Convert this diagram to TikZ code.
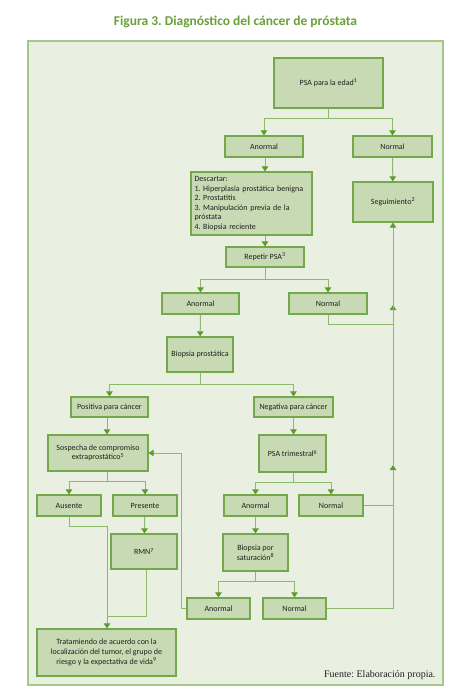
\documentclass[tikz,border=0pt]{standalone}
\usepackage{fontspec}
\setmainfont{Carlito}
\newfontfamily\fuentefont{Liberation Serif}
\usetikzlibrary{shapes, arrows.meta, calc, positioning}
\frenchspacing
\definecolor{bggreen}{HTML}{EAF0E1}
\definecolor{framegreen}{HTML}{A3C887}
\definecolor{boxfill}{HTML}{C8DAB4}
\definecolor{boxborder}{HTML}{74A84B}
\definecolor{linegreen}{HTML}{8DB96E}
\definecolor{tipgreen}{HTML}{5E9B2E}
\definecolor{titlegreen}{HTML}{6AA03A}
\definecolor{textgray}{HTML}{1F1F1F}
\tikzstyle{box} = [rectangle, draw=boxborder, fill=boxfill, line width=1.2pt, text=textgray, font=\fontsize{8}{9.6}\selectfont, align=center, inner sep=2pt]
\tikzstyle{arrow} = [draw=linegreen, line width=1pt, -{Triangle[length=5pt,width=6.5pt,color=tipgreen]}]
\tikzstyle{line} = [draw=linegreen, line width=1pt]
\newcommand{\sups}[1]{\textsuperscript{#1}}

\begin{document}
\begin{tikzpicture}[x=1pt, y=-1pt]
\useasboundingbox [fill=white] (0,0) rectangle (464,695);

% Frame and title
\node (title) at (235.5,22) [font=\fontsize{13.5}{15}\selectfont\bfseries, text=titlegreen] {Figura 3. Diagnóstico del cáncer de próstata};
\node (frame) at (235.5,363) [rectangle, draw=framegreen, fill=bggreen, line width=1.5pt, minimum width=415pt, minimum height=644pt] {};

% Boxes
\node (psa) at (328.5,83) [box, minimum width=109pt, minimum height=50pt] {PSA para la edad\sups{1}};
\node (anormal_1) at (264,146.5) [box, minimum width=78pt, minimum height=21pt] {Anormal};
\node (normal_1) at (392.5,146.5) [box, minimum width=79pt, minimum height=21pt] {Normal};
\node (descartar) at (251.5,203.5) [box, minimum width=121pt, minimum height=63pt, text width=114pt, align=left] {Descartar:\\1. Hiperplasia prostática benigna\\2. Prostatitis\\3. Manipulación previa de la\\próstata\\4. Biopsia reciente};
\node (seguimiento) at (393,202) [box, minimum width=80pt, minimum height=40pt] {Seguimiento\sups{2}};
\node (repetir) at (265,257) [box, minimum width=78pt, minimum height=20pt] {Repetir PSA\sups{3}};
\node (anormal_2) at (200.5,303.5) [box, minimum width=77pt, minimum height=21pt] {Anormal};
\node (normal_2) at (328,303.5) [box, minimum width=78pt, minimum height=21pt] {Normal};
\node (biopsia) at (200,354.5) [box, minimum width=66pt, minimum height=35pt] {Biopsia prostática};
\node (positiva) at (109.5,407) [box, minimum width=77pt, minimum height=20pt] {Positiva para cáncer};
\node (negativa) at (293.5,407) [box, minimum width=79pt, minimum height=20pt] {Negativa para cáncer};
\node (sospecha) at (98,453) [box, minimum width=100pt, minimum height=36pt] {Sospecha de compromiso\\extraprostático\sups{5}};
\node (trimestral) at (292.5,453.5) [box, minimum width=67pt, minimum height=37pt] {PSA trimestral\sups{6}};
\node (ausente) at (69,505.5) [box, minimum width=64pt, minimum height=21pt] {Ausente};
\node (presente) at (145,505.5) [box, minimum width=64pt, minimum height=21pt] {Presente};
\node (anormal_3) at (255.5,505.5) [box, minimum width=63pt, minimum height=21pt] {Anormal};
\node (normal_3) at (331,505.5) [box, minimum width=64pt, minimum height=21pt] {Normal};
\node (rmn) at (144,551.5) [box, minimum width=66pt, minimum height=35pt] {RMN\sups{7}};
\node (saturacion) at (255.5,552.5) [box, minimum width=65pt, minimum height=37pt] {Biopsia por\\saturación\sups{8}};
\node (anormal_4) at (218.5,608.5) [box, minimum width=63pt, minimum height=21pt] {Anormal};
\node (normal_4) at (294.5,608.5) [box, minimum width=63pt, minimum height=21pt] {Normal};
\node (tratamiento) at (106.5,652.5) [box, minimum width=139pt, minimum height=47pt] {Tratamiendo de acuerdo con la\\localización del tumor, el grupo de\\riesgo y la expectativa de vida\sups{9}};
\node (fuente) at (439,675) [anchor=east, font=\fuentefont\fontsize{10}{12}\selectfont, text=textgray] {Fuente: Elaboración propia.};

% Splits
\draw [line] (psa.south) -- ++(0,10) coordinate (split_1);
\draw [arrow] (split_1) -| (anormal_1);
\draw [arrow] (split_1) -| (normal_1);
\draw [line] (repetir.south) -- ++(0,12) coordinate (split_2);
\draw [arrow] (split_2) -| (anormal_2);
\draw [arrow] (split_2) -| (normal_2);
\draw [line] (biopsia.south) -- ++(0,12) coordinate (split_3);
\draw [arrow] (split_3) -| (positiva);
\draw [arrow] (split_3) -| (negativa);
\draw [line] (sospecha.south) ++(9,0) -- ++(0,10) coordinate (split_4);
\draw [arrow] (split_4) -| (ausente);
\draw [arrow] (split_4) -| (presente);
\draw [line] (trimestral.south) ++(1,0) -- ++(0,10) coordinate (split_5);
\draw [arrow] (split_5) -| (anormal_3);
\draw [arrow] (split_5) -| (normal_3);
\draw [line] (saturacion.south) -- ++(0,10) coordinate (split_6);
\draw [arrow] (split_6) -| (anormal_4);
\draw [arrow] (split_6) -| (normal_4);

% Straight arrows
\draw [arrow] ([xshift=1pt]anormal_1.south) -- ([xshift=1pt]anormal_1.south |- descartar.north);
\draw [arrow] (repetir.north |- descartar.south) -- (repetir);
\draw [arrow] (normal_1) -- (seguimiento);
\draw [arrow] (anormal_2) -- (biopsia);
\draw [arrow] (split_4 |- positiva.south) -- (split_4 |- sospecha.north);
\draw [arrow] (negativa) -- (negativa |- trimestral.north);
\draw [arrow] (presente) -- (rmn);
\draw [arrow] (anormal_3) -- (anormal_3 |- saturacion.north);

% Towards treatment
\draw [arrow] (ausente.south) -- ++(0,10) -| ([xshift=0.5pt]tratamiento.north);
\draw [line] (rmn.south) ++(2,0) |- ($(tratamiento.north)+(0.5,-12)$);

% Back to suspicion
\draw [arrow] (anormal_4.west) -- ++(-5,0) |- (sospecha.east);

% Back to follow-up
\coordinate (up_1) at (seguimiento.south |- 0,465);
\coordinate (up_2) at (seguimiento.south |- 0,305);
\draw [arrow] (normal_4.east) -| (up_1);
\draw [arrow] (up_1) -- (up_2);
\draw [arrow] (up_2) -- (seguimiento.south);
\draw [line] (normal_3.east) -- (normal_3.east -| up_1);
\draw [line] (normal_2.south) -- ++(0,10) -| (up_2);

\end{tikzpicture}
\end{document}
